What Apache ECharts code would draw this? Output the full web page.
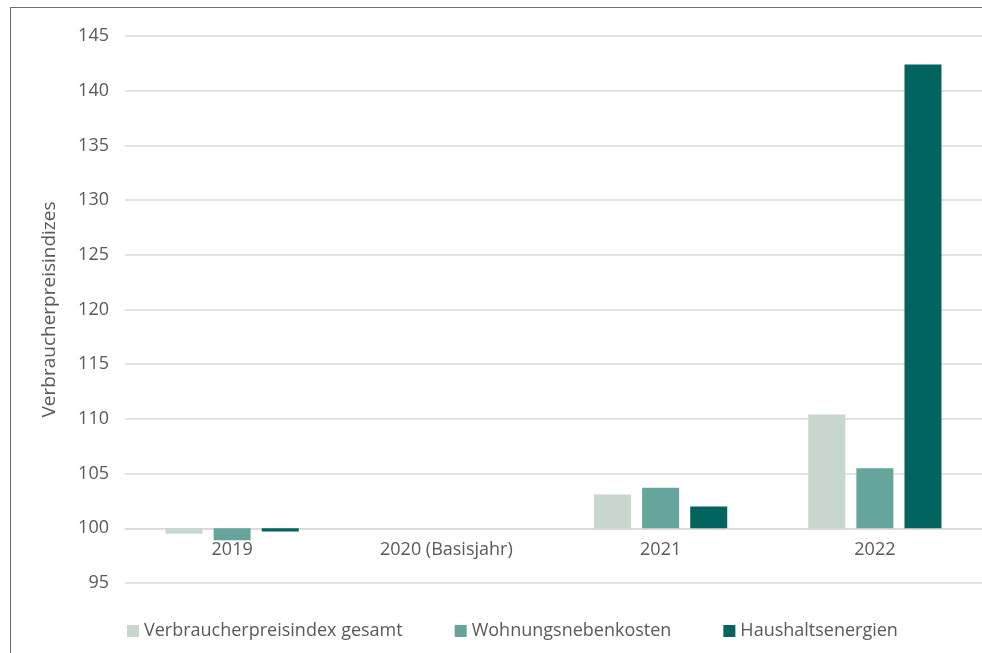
<!DOCTYPE html>
<html>
<head>
<meta charset="utf-8">
<script src="https://cdn.jsdelivr.net/npm/echarts@6/dist/echarts.min.js"></script>
<style>
  html, body { margin: 0; padding: 0; background: #fff; }
  #frame { position: absolute; left: 10px; top: 7px; right: -5px; bottom: -5px;
           border-left: 1.5px solid #6e6e6e; border-top: 1.5px solid #6e6e6e; }
  #chart { position: absolute; left: 0; top: 0; width: 982px; height: 653px; }
</style>
</head>
<body>
<div id="frame"></div>
<div id="chart"></div>
<script>
var years = ['2019', '2020 (Basisjahr)', '2021', '2022'];
var vpiGesamt = [99.5, 100, 103.1, 110.4];
var wohnNebenkosten = [98.9, 100, 103.7, 105.5];
var haushaltsenergien = [99.7, 100, 102.0, 142.4];
var basis = 100;

var chart = echarts.init(document.getElementById('chart'));
var font = '"Open Sans", sans-serif';

// bars drawn relative to the base year (index 100)
function rel(arr) {
    return arr.map(function (v) { return +(v - basis).toFixed(2); });
}

var option = {
    animation: false,
    textStyle: { fontFamily: font },
    color: ['#c8d7cd', '#66a59b', '#02635f'],
    grid: { left: 125, right: -5, top: 36, bottom: 70, containLabel: false },
    legend: {
        left: 122,
        top: 617,
        itemWidth: 12,
        itemHeight: 12,
        itemGap: 52,
        icon: 'rect',
        textStyle: { fontSize: 18, color: '#595959', fontFamily: font },
        data: ['Verbraucherpreisindex gesamt', 'Wohnungsnebenkosten', 'Haushaltsenergien']
    },
    xAxis: {
        type: 'category',
        data: years,
        offset: -54.7,
        axisLine: { onZero: false, lineStyle: { color: '#d9d9d9', width: 1.5 } },
        axisTick: { show: false },
        axisLabel: { fontSize: 18, color: '#595959', margin: 13, fontFamily: font }
    },
    yAxis: {
        type: 'value',
        min: -5,
        max: 45,
        interval: 5,
        name: 'Verbraucherpreisindizes',
        nameLocation: 'middle',
        nameGap: 66,
        nameTextStyle: { fontSize: 19, color: '#595959', fontFamily: font },
        axisLine: { show: false },
        axisTick: { show: false },
        axisLabel: {
            fontSize: 18, color: '#595959', margin: 16, fontFamily: font,
            formatter: function (v) { return v + basis; }
        },
        splitLine: { lineStyle: { color: '#d9d9d9', width: 1.5 } }
    },
    series: [
        { name: 'Verbraucherpreisindex gesamt', type: 'bar', barWidth: 37, barGap: '30%', data: rel(vpiGesamt) },
        { name: 'Wohnungsnebenkosten', type: 'bar', barWidth: 37, barGap: '30%', data: rel(wohnNebenkosten) },
        { name: 'Haushaltsenergien', type: 'bar', barWidth: 37, barGap: '30%', data: rel(haushaltsenergien) }
    ]
};

chart.setOption(option);
</script>
</body>
</html>
